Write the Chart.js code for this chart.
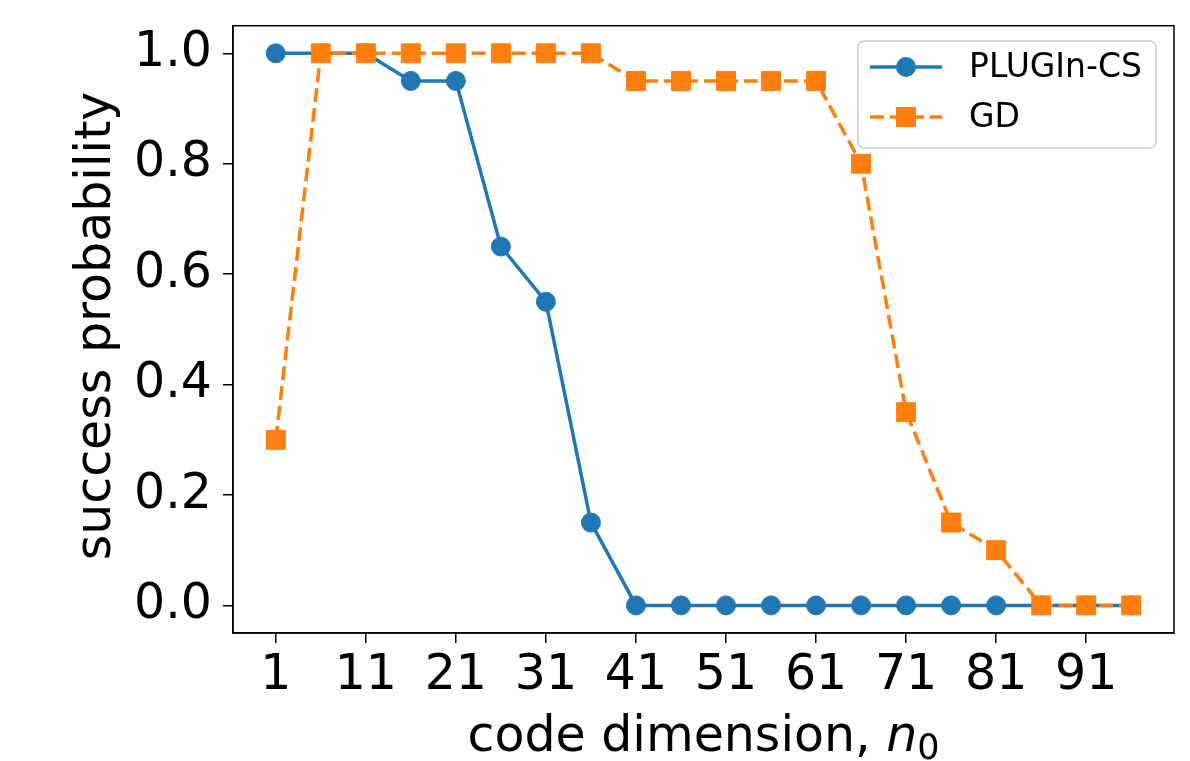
<!DOCTYPE html>
<html>
<head>
<meta charset="utf-8">
<script src="https://cdn.jsdelivr.net/npm/chart.js@4.4.1/dist/chart.umd.min.js"></script>
<style>
  html, body { margin: 0; padding: 0; background: #fff; }
  #wrap { width: 1190px; height: 761px; }
</style>
</head>
<body>
<div id="wrap"><canvas id="chart"></canvas></div>
<script>
const codeDims  = [1, 6, 11, 16, 21, 26, 31, 36, 41, 46, 51, 56, 61, 66, 71, 76, 81, 86, 91, 96];
const pluginCS  = [1.0, 1.0, 1.0, 0.95, 0.95, 0.65, 0.55, 0.15, 0, 0, 0, 0, 0, 0, 0, 0, 0, 0, 0, 0];
const gd        = [0.3, 1.0, 1.0, 1.0, 1.0, 1.0, 1.0, 1.0, 0.95, 0.95, 0.95, 0.95, 0.95, 0.8, 0.35, 0.15, 0.1, 0, 0, 0];
const xTicks    = [1, 11, 21, 31, 41, 51, 61, 71, 81, 91];
const yTicks    = [0, 0.2, 0.4, 0.6, 0.8, 1.0];

const BLUE = '#1f77b4';
const ORANGE = '#ff7f0e';
const FONT = "'DejaVu Sans', sans-serif";
const DASH = [14, 6];

const toPts = ys => codeDims.map((x, i) => ({ x, y: ys[i] }));

// frame, axis titles and legend, drawn matplotlib-style
const extras = {
  id: 'extras',
  afterDraw(chart) {
    const ctx = chart.ctx;
    const a = chart.chartArea;
    ctx.save();

    ctx.strokeStyle = '#000';
    ctx.lineWidth = 1.5;
    ctx.strokeRect(a.left, a.top, a.right - a.left, a.bottom - a.top);

    // y title
    ctx.fillStyle = '#000';
    ctx.font = '49px ' + FONT;
    ctx.textAlign = 'center';
    ctx.textBaseline = 'middle';
    ctx.save();
    ctx.translate(97, 326);
    ctx.rotate(-Math.PI / 2);
    ctx.fillText('success probability', 0, 0);
    ctx.restore();

    // x title with italic n and subscript 0
    ctx.textAlign = 'left';
    ctx.textBaseline = 'alphabetic';
    const part1 = 'code dimension, ';
    ctx.font = '49px ' + FONT;
    const w1 = ctx.measureText(part1).width;
    ctx.font = 'italic 49px ' + FONT;
    const w2 = ctx.measureText('n').width;
    ctx.font = '35px ' + FONT;
    const w3 = ctx.measureText('0').width;
    const x0 = (a.left + a.right) / 2 - (w1 + w2 + w3) / 2;
    const base = 751;
    ctx.font = '49px ' + FONT;
    ctx.fillText(part1, x0, base);
    ctx.font = 'italic 49px ' + FONT;
    ctx.fillText('n', x0 + w1, base);
    ctx.font = '35px ' + FONT;
    ctx.fillText('0', x0 + w1 + w2, base + 8);

    // legend
    const bx = 858, by = 41, bw = 298, bh = 107;
    ctx.beginPath();
    ctx.roundRect(bx, by, bw, bh, 6);
    ctx.fillStyle = 'rgba(255,255,255,0.8)';
    ctx.fill();
    ctx.strokeStyle = '#cccccc';
    ctx.lineWidth = 1.5;
    ctx.stroke();

    const rows = [
      { y: 67, color: BLUE, dash: [], label: 'PLUGIn-CS', marker: 'circle' },
      { y: 117, color: ORANGE, dash: DASH, label: 'GD', marker: 'rect' },
    ];
    rows.forEach(r => {
      ctx.strokeStyle = r.color;
      ctx.lineWidth = 3.5;
      ctx.setLineDash(r.dash);
      ctx.beginPath();
      ctx.moveTo(870, r.y);
      ctx.lineTo(942, r.y);
      ctx.stroke();
      ctx.setLineDash([]);
      ctx.fillStyle = r.color;
      ctx.beginPath();
      if (r.marker === 'circle') ctx.arc(906, r.y, 10, 0, Math.PI * 2);
      else ctx.rect(896, r.y - 10, 20, 20);
      ctx.fill();
      ctx.fillStyle = '#000';
      ctx.font = '33px ' + FONT;
      ctx.textBaseline = 'middle';
      ctx.fillText(r.label, 969, r.y + 1);
    });

    ctx.restore();
  }
};

new Chart(document.getElementById('chart'), {
  type: 'line',
  data: {
    datasets: [
      {
        label: 'PLUGIn-CS',
        data: toPts(pluginCS),
        borderColor: BLUE,
        backgroundColor: BLUE,
        borderWidth: 3.5,
        pointStyle: 'circle',
        pointRadius: 9.5,
        pointBorderWidth: 1,
        pointBackgroundColor: BLUE,
        pointBorderColor: BLUE,
        tension: 0,
        order: 2,
      },
      {
        label: 'GD',
        data: toPts(gd),
        borderColor: ORANGE,
        backgroundColor: ORANGE,
        borderWidth: 3.5,
        borderDash: DASH,
        pointStyle: 'rect',
        pointRadius: 13.4,
        pointBorderWidth: 1,
        pointBackgroundColor: ORANGE,
        pointBorderColor: ORANGE,
        tension: 0,
        order: 1,
      },
    ],
  },
  options: {
    responsive: true,
    maintainAspectRatio: false,
    animation: false,
    layout: { padding: { top: 23, right: 16, left: 0, bottom: 0 } },
    plugins: {
      legend: { display: false },
      tooltip: { enabled: false },
    },
    scales: {
      x: {
        type: 'linear',
        min: -3.75,
        max: 100.75,
        afterBuildTicks: s => { s.ticks = xTicks.map(v => ({ value: v })); },
        afterFit: s => { s.height = 128; },
        grid: { drawOnChartArea: false, drawTicks: true, tickLength: 10, color: '#000', lineWidth: 1.5 },
        border: { display: true, color: '#000', width: 1.5 },
        ticks: { color: '#000', font: { family: FONT, size: 49 }, padding: 4, maxRotation: 0, autoSkip: false },
      },
      y: {
        min: -0.05,
        max: 1.05,
        afterBuildTicks: s => { s.ticks = yTicks.map(v => ({ value: v })); },
        afterFit: s => { s.width = 233; },
        grid: { drawOnChartArea: false, drawTicks: true, tickLength: 10, color: '#000', lineWidth: 1.5 },
        border: { display: true, color: '#000', width: 1.5 },
        ticks: { color: '#000', font: { family: FONT, size: 49, lineHeight: 0.6 }, padding: 11, callback: v => v.toFixed(1) },
      },
    },
  },
  plugins: [extras],
});
</script>
</body>
</html>
